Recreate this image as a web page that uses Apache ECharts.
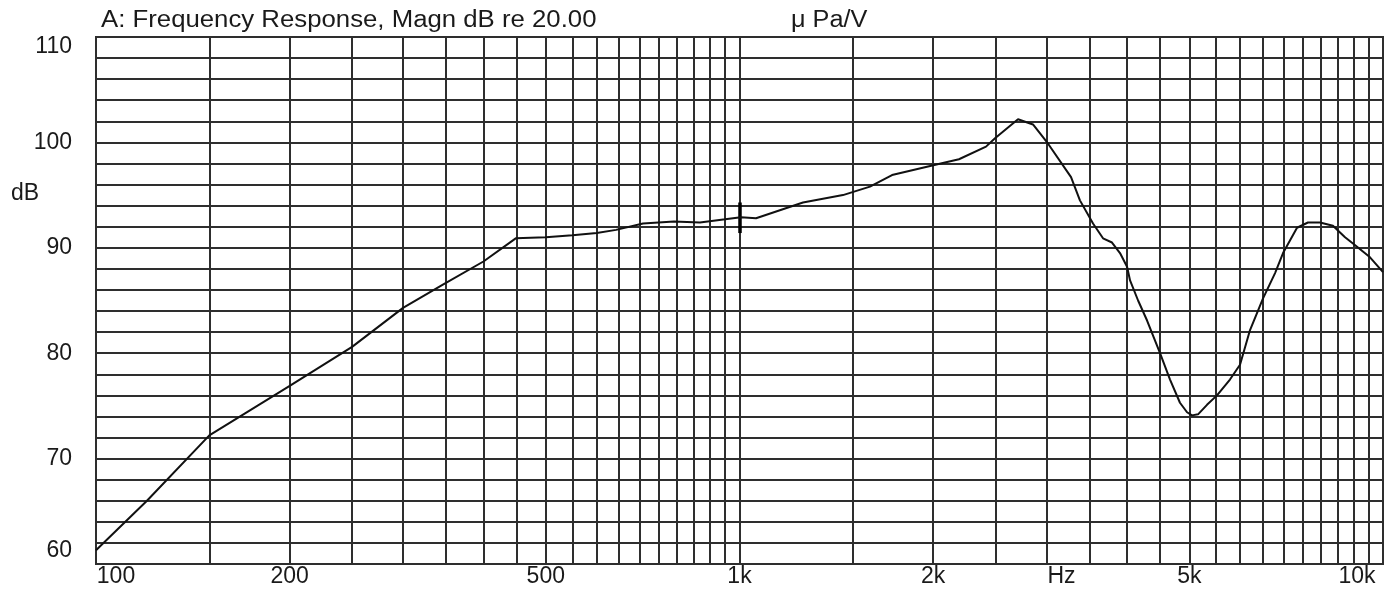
<!DOCTYPE html>
<html><head><meta charset="utf-8">
<script src="https://cdn.jsdelivr.net/npm/echarts@6/dist/echarts.min.js"></script>
<style>html,body{margin:0;padding:0;background:#fff}#c{width:1397px;height:592px}</style>
</head><body><div id="c"></div>
<script>
// ---- data ----
const freqHz = [100,120,150,200,250,300,346,400,449,500,550,600,643,708,791,868,950,1005,1061,1255,1448,1595,1726,2086,2193,2416,2495,2709,2858,3015,3275,3381,3543,3672,3792,3902,4002,4045,4163,4299,4503,4667,4836,4960,5050,5159,5327,5521,5783,5995,6214,6510,6796,6993,7352,7645,7981,8360,8730,9113,9546,10000];
const magnDb = [61.3,66.0,72.2,76.9,80.6,84.3,86.5,88.7,90.9,91.0,91.2,91.4,91.7,92.3,92.5,92.4,92.7,92.9,92.8,94.3,95.0,95.8,96.9,98.1,98.4,99.6,100.4,102.2,101.7,99.9,96.7,94.5,92.3,90.9,90.5,89.5,88.2,86.9,85.0,83.1,80.0,77.5,75.3,74.4,74.1,74.2,75.1,76.0,77.5,78.9,82.2,85.2,87.6,89.5,91.9,92.4,92.4,92.1,91.0,90.1,89.1,87.7];
const gridFreqs = [150,200,250,300,350,400,450,500,550,600,650,700,750,800,850,900,950,1000,1500,2000,2500,3000,3500,4000,4500,5000,5500,6000,6500,7000,7500,8000,8500,9000,9500];
const xTickValues = [100,200,500,1000,2000,3000,5000,10000];
const xTickLabels = ['100','200','500','1k','2k','Hz','5k','10k'];
const cursorFreq = 1000;
const cursorRange = [94.3, 91.4];
const titleText = 'A: Frequency Response, Magn dB re 20.00';
const unitText = 'μ Pa/V';
const yName = 'dB';

const FONT = "'Liberation Sans', Arial, Helvetica, sans-serif";
const GRID_COLOR = '#2e2e2e';
const TXT = '#1a1a1a';
const FS = 23;

const chart = echarts.init(document.getElementById('c'), null, {renderer: 'canvas'});

// label shifts for edge labels
const xShift = {'100': [0,0,0,40], 'Hz': [0,0,0,30], '10k': [0,52,0,0]};
const labelItems = xTickValues.map((v, i) => {
  const t = xTickLabels[i];
  const key = xShift[t] ? 's' + i : null;
  const rich = {};
  if (key) rich[key] = {padding: xShift[t], fontSize: FS, fontFamily: FONT, color: TXT};
  return {
    xAxis: v,
    lineStyle: {color: 'rgba(0,0,0,0)', width: 0},
    label: {
      show: true,
      position: 'start',
      distance: 1,
      formatter: key ? '{' + key + '|' + t + '}' : t,
      fontSize: FS, fontFamily: FONT, color: TXT,
      rich: rich
    }
  };
});

const option = {
  animation: false,
  backgroundColor: '#ffffff',
  grid: {left: 96, right: 14, top: 37, bottom: 28, show: true, borderColor: GRID_COLOR, borderWidth: 2, backgroundColor: 'transparent'},
  xAxis: {
    type: 'log', logBase: 10, min: 100, max: 10000,
    axisLine: {show: false}, axisTick: {show: false}, axisLabel: {show: false},
    splitLine: {show: false}, minorSplitLine: {show: false}
  },
  yAxis: {
    type: 'value', min: 60, max: 110, interval: 10,
    axisLine: {show: false}, axisTick: {show: false},
    minorTick: {show: false, splitNumber: 5},
    splitLine: {show: true, lineStyle: {color: GRID_COLOR, width: 2}},
    minorSplitLine: {show: true, lineStyle: {color: GRID_COLOR, width: 2}},
    axisLabel: {
      margin: 24, fontSize: FS, fontFamily: FONT, color: TXT,
      formatter: function (v) {
        if (v === 110) return '{t|110}';
        if (v === 60) return '{b|60}';
        return String(v);
      },
      rich: {
        t: {padding: [20, 0, 0, 0], fontSize: FS, fontFamily: FONT, color: TXT},
        b: {padding: [0, 0, 26, 0], fontSize: FS, fontFamily: FONT, color: TXT}
      }
    }
  },
  graphic: [
    {type: 'text', x: 101, y: 21, scaleX: 1.12, style: {text: titleText, font: '23px ' + FONT, fill: TXT, textAlign: 'left', textVerticalAlign: 'middle', align: 'left', verticalAlign: 'middle'}},
    {type: 'text', x: 791, y: 21, scaleX: 1.1, style: {text: unitText, font: '23px ' + FONT, fill: TXT, textAlign: 'left', textVerticalAlign: 'middle', align: 'left', verticalAlign: 'middle'}},
    {type: 'text', x: 25, y: 194, style: {text: yName, font: '23px ' + FONT, fill: TXT, textAlign: 'center', textVerticalAlign: 'middle', align: 'center', verticalAlign: 'middle'}}
  ],
  series: [
    {
      name: 'grid', type: 'line', data: [], z: 1, silent: true,
      markLine: {
        silent: true, symbol: 'none', animation: false,
        lineStyle: {color: GRID_COLOR, width: 2, type: 'solid'},
        label: {show: false},
        emphasis: {disabled: true},
        data: gridFreqs.map(f => ({xAxis: f})).concat(labelItems)
      }
    },
    {
      name: 'Magn', type: 'line', z: 5,
      data: freqHz.map((f, i) => [f, magnDb[i]]),
      showSymbol: false, symbol: 'none',
      lineStyle: {color: '#111', width: 2},
      markLine: {
        silent: true, symbol: 'none', animation: false,
        lineStyle: {color: '#000', width: 3.5, type: 'solid'},
        label: {show: false},
        data: [[{coord: [cursorFreq, cursorRange[0]]}, {coord: [cursorFreq, cursorRange[1]]}]]
      }
    }
  ]
};
chart.setOption(option);
</script>
</body></html>
